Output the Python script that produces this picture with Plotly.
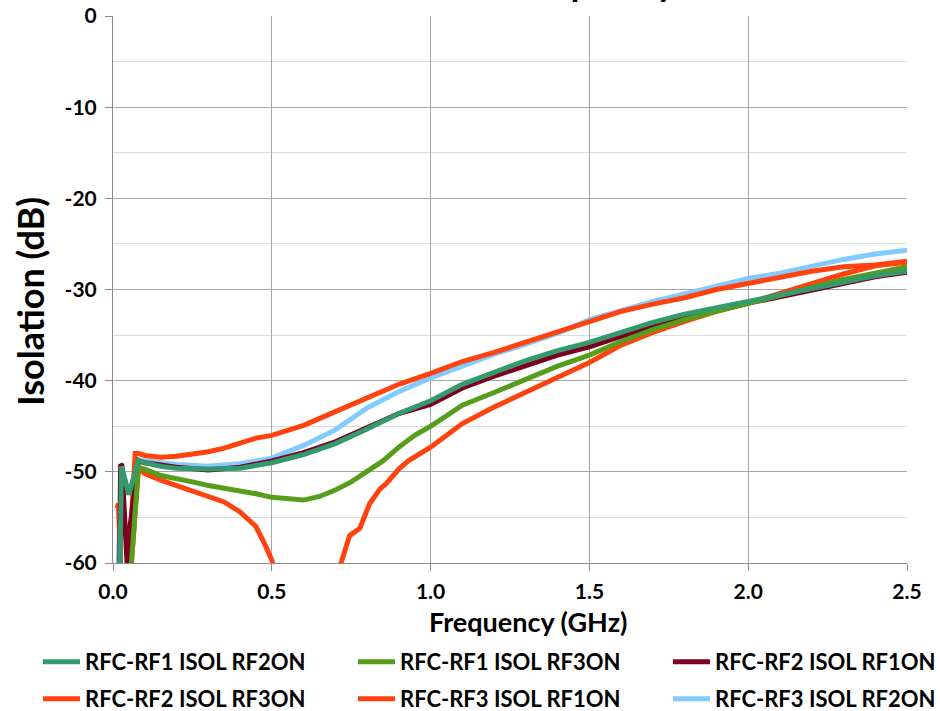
import plotly.graph_objects as go

# ---- data ----
f_rf1_rf2on = [0.021, 0.024, 0.027, 0.05, 0.065, 0.08, 0.1, 0.15, 0.2, 0.3, 0.4, 0.45, 0.5, 0.6, 0.7, 0.8, 0.9, 1.0,
               1.1, 1.2, 1.3, 1.4, 1.5, 1.6, 1.7, 1.8, 1.9, 2.0, 2.1, 2.2, 2.3, 2.4, 2.5]
db_rf1_rf2on = [-62, -49.5, -49.4, -52.5, -50.5, -48.7, -49.0, -49.4, -49.6, -49.7, -49.6, -49.3, -49.0, -48.1, -46.9,
                -45.3, -43.6, -42.2, -40.4, -39.1, -37.8, -36.7, -35.8, -34.7, -33.6, -32.7, -32.0, -31.3, -30.7,
                -30.0, -29.3, -28.5, -28.0]

f_rf1_rf3on = [0.05, 0.058, 0.08, 0.1, 0.15, 0.2, 0.25, 0.3, 0.35, 0.4, 0.45, 0.5, 0.55, 0.6, 0.65, 0.7, 0.75, 0.8,
               0.85, 0.9, 0.95, 1.0, 1.1, 1.2, 1.3, 1.4, 1.5, 1.6, 1.7, 1.8, 1.9, 2.0, 2.1, 2.2, 2.3, 2.4, 2.5]
db_rf1_rf3on = [-62, -60, -49.5, -49.7, -50.4, -50.7, -51.1, -51.5, -51.8, -52.0, -52.4, -52.8, -53.0, -53.1, -52.7,
                -52.0, -51.1, -49.9, -48.8, -47.3, -46.0, -45.0, -42.7, -41.3, -39.8, -38.4, -37.2, -35.7, -34.4,
                -33.3, -32.4, -31.5, -30.7, -29.7, -28.9, -28.2, -27.5]

f_rf2_rf1on = [0.021, 0.024, 0.028, 0.045, 0.05, 0.08, 0.1, 0.2, 0.3, 0.4, 0.5, 0.6, 0.7, 0.8, 0.9, 1.0, 1.1, 1.2,
               1.3, 1.4, 1.5, 1.6, 1.7, 1.8, 1.9, 2.0, 2.1, 2.2, 2.3, 2.4, 2.5]
db_rf2_rf1on = [-62, -49.2, -49.3, -60.5, -57, -48.8, -49.0, -49.5, -49.8, -49.5, -48.8, -47.9, -46.7, -45.1, -43.6,
                -42.6, -40.8, -39.5, -38.3, -37.2, -36.3, -35.1, -34.0, -33.0, -32.2, -31.5, -30.8, -30.1, -29.4,
                -28.6, -28.1]

f_rf2_rf3on = [0.012, 0.017, 0.021, 0.025, 0.05, 0.058, 0.08, 0.1, 0.15, 0.2, 0.25, 0.3, 0.35, 0.4, 0.45, 0.48, 0.5,
               0.52, 0.6, 0.7, 0.72, 0.745, 0.777, 0.808, 0.84, 0.86, 0.9, 0.93, 1.0, 1.1, 1.2, 1.3, 1.4, 1.5, 1.6,
               1.7, 1.8, 1.9, 2.0, 2.1, 2.2, 2.3, 2.4, 2.5]
db_rf2_rf3on = [-54, -53.5, -57, -62, -62, -60, -49.6, -50.2, -50.9, -51.5, -52.0, -52.7, -53.3, -54.4, -56.0, -58.1,
                -59.7, -62, -70, -62, -59.9, -57.0, -56.2, -53.5, -51.9, -51.3, -49.7, -48.8, -47.3, -44.7, -42.9,
                -41.3, -39.6, -38.0, -36.1, -34.7, -33.5, -32.4, -31.5, -30.4, -29.3, -28.3, -27.4, -27.0]

f_rf3_rf1on = [0.045, 0.05, 0.07, 0.08, 0.1, 0.15, 0.2, 0.25, 0.3, 0.35, 0.4, 0.45, 0.5, 0.6, 0.7, 0.8, 0.9, 1.0, 1.1,
               1.2, 1.3, 1.4, 1.5, 1.6, 1.7, 1.8, 1.9, 2.0, 2.1, 2.2, 2.3, 2.4, 2.5]
db_rf3_rf1on = [-62, -60, -48.0, -48.0, -48.2, -48.4, -48.3, -48.1, -47.8, -47.4, -46.9, -46.3, -46.0, -44.9, -43.4,
                -41.9, -40.4, -39.2, -37.9, -36.9, -35.8, -34.7, -33.5, -32.4, -31.6, -30.9, -30.0, -29.3, -28.7,
                -28.0, -27.5, -27.3, -26.9]

f_rf3_rf2on = [0.014, 0.018, 0.021, 0.024, 0.027, 0.05, 0.065, 0.08, 0.1, 0.2, 0.3, 0.4, 0.5, 0.6, 0.7, 0.8, 0.9, 1.0,
               1.1, 1.2, 1.3, 1.4, 1.5, 1.6, 1.7, 1.8, 1.9, 2.0, 2.1, 2.2, 2.3, 2.4, 2.5]
db_rf3_rf2on = [-62, -58.5, -56, -49.8, -49.7, -52.5, -50.5, -48.9, -48.8, -49.2, -49.4, -49.1, -48.5, -47.1, -45.4,
                -43.0, -41.2, -39.7, -38.4, -37.1, -36.0, -34.8, -33.3, -32.3, -31.3, -30.5, -29.6, -28.8, -28.2,
                -27.4, -26.7, -26.1, -25.7]

x_ticks = [0.0, 0.5, 1.0, 1.5, 2.0, 2.5]
y_ticks = [0, -10, -20, -30, -40, -50, -60]

# (name, f, dB, color, legend slot) listed in drawing order (last on top)
series = [
    ("RFC-RF3 ISOL RF2ON", f_rf3_rf2on, db_rf3_rf2on, "#83caff", 6),
    ("RFC-RF3 ISOL RF1ON", f_rf3_rf1on, db_rf3_rf1on, "#ff420e", 5),
    ("RFC-RF2 ISOL RF3ON", f_rf2_rf3on, db_rf2_rf3on, "#ff420e", 4),
    ("RFC-RF2 ISOL RF1ON", f_rf2_rf1on, db_rf2_rf1on, "#7e0021", 3),
    ("RFC-RF1 ISOL RF3ON", f_rf1_rf3on, db_rf1_rf3on, "#579d1c", 2),
    ("RFC-RF1 ISOL RF2ON", f_rf1_rf2on, db_rf1_rf2on, "#339a6b", 1),
]

FONT = "Lato"

fig = go.Figure()
for name, fx, dy, col, slot in series:
    fig.add_trace(go.Scatter(x=fx, y=dy, mode="lines", name=name,
                             line=dict(color=col, width=5),
                             legend="legend" if slot == 1 else f"legend{slot}"))

W, H = 940, 711
L, R, T, B = 113, 33, 16, 148
pw, ph = W - L - R, H - T - B


def px2paper(px, py):
    return (px - L) / pw, (H - B - py) / ph


axis_font = dict(family=FONT, size=21, color="#000000", weight="bold")
legend_common = dict(orientation="h", xref="container", yref="container", xanchor="left", yanchor="top",
                     font=dict(family=FONT, size=22, color="#000000", weight="bold"),
                     itemwidth=37, bgcolor="rgba(0,0,0,0)", itemclick=False)

col_x = [38, 353, 668]
row_y = [641, 678]
legends = {}
for slot in range(1, 7):
    r, c = divmod(slot - 1, 3)
    key = "legend" if slot == 1 else f"legend{slot}"
    legends[key] = dict(x=col_x[c] / W, y=1 - row_y[r] / H, **legend_common)

fig.update_layout(
    width=W, height=H,
    margin=dict(l=L, r=R, t=T, b=B, autoexpand=False),
    paper_bgcolor="white", plot_bgcolor="white",
    showlegend=True,
    xaxis=dict(range=[0, 2.5], tickvals=x_ticks, ticktext=[f"{v:.1f}" for v in x_ticks],
               showgrid=True, gridcolor="#a6a6a6", gridwidth=1,
               showline=True, linecolor="#8c8c8c", linewidth=1, mirror=False,
               ticks="outside", ticklen=7, tickcolor="#8c8c8c", tickfont=axis_font,
               ticklabelstandoff=3, zeroline=False, fixedrange=True),
    yaxis=dict(range=[-60, 0], tickvals=y_ticks, ticktext=[str(v) for v in y_ticks],
               showgrid=True, gridcolor="#a6a6a6", gridwidth=1,
               minor=dict(dtick=5, showgrid=True, gridcolor="#dcdcdc", gridwidth=1, ticks=""),
               showline=True, linecolor="#8c8c8c", linewidth=1,
               ticks="outside", ticklen=7, tickcolor="#8c8c8c", tickfont=axis_font,
               ticklabelstandoff=4, zeroline=False, fixedrange=True),
    **legends,
)

xt, yt = px2paper(528, 621)
xy, yy = px2paper(30, 302)
xtt, ytt = px2paper(678, 6)
fig.add_annotation(text="Frequency (GHz)", x=xt, y=yt, xref="paper", yref="paper", showarrow=False,
                   xanchor="center", yanchor="middle",
                   font=dict(family=FONT, size=27, color="#000000", weight="bold"))
fig.add_annotation(text="Isolation (dB)", x=xy, y=yy, xref="paper", yref="paper", showarrow=False,
                   textangle=-90, xanchor="center", yanchor="middle",
                   font=dict(family=FONT, size=36, color="#000000", weight="bold"))
fig.add_annotation(text="Isolation vs Frequency", x=xtt, y=ytt, xref="paper", yref="paper", showarrow=False,
                   xanchor="right", yanchor="bottom",
                   font=dict(family=FONT, size=36, color="#000000", weight="bold"))

fig.write_html("out.html", config={"displayModeBar": False},
               post_script="document.body.style.margin='0';document.body.style.padding='0';")
